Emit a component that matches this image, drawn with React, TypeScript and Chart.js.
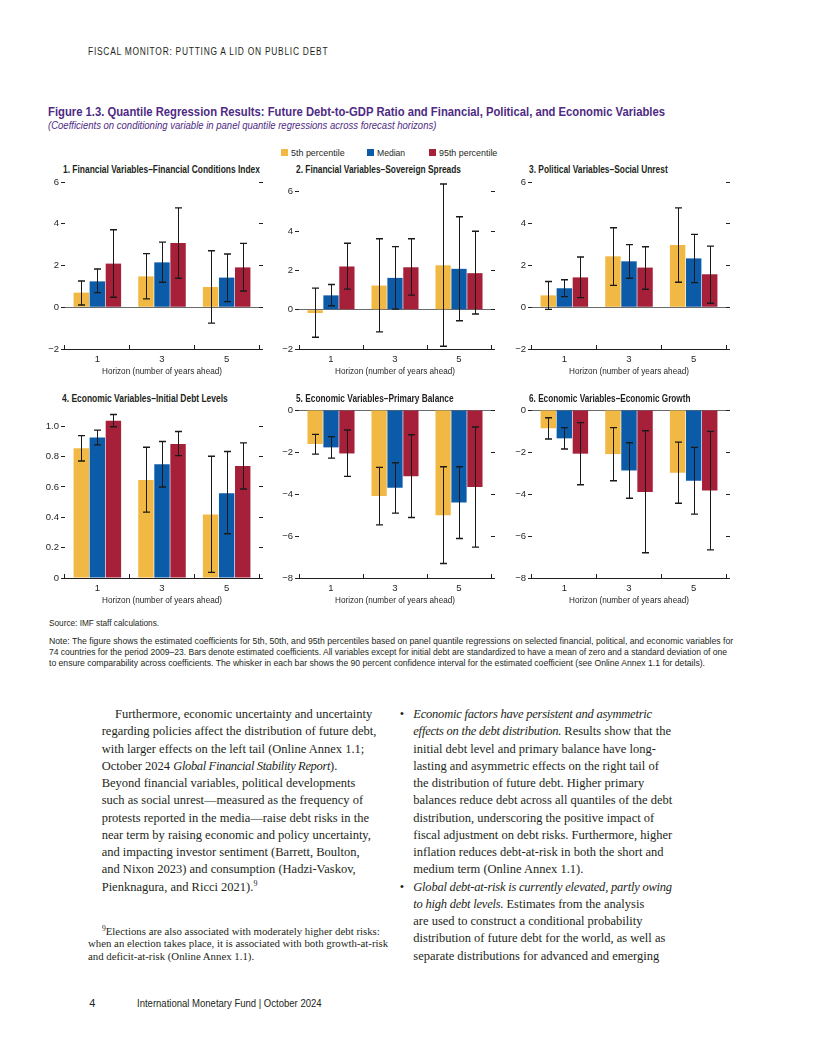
import React, { useEffect, useLayoutEffect, useRef } from 'react';
import { Chart, registerables } from 'chart.js';

Chart.register(...registerables);

const SANS = '"Liberation Sans", Arial, sans-serif';
const SERIF = '"Liberation Serif", "DejaVu Serif", serif';
const INK = '#231F20';
const PURPLE = '#4E2A84';

// ---------- data ----------
const HORIZONS = ['1', '3', '5'];
const SERIES = ['5th percentile', 'Median', '95th percentile'];
const COLORS = ['#F1B944', '#0C5BA8', '#A6203A'];

const TICKS_WIDE = [-2, 0, 2, 4, 6];
const TICKS_DEBT = [0, 0.2, 0.4, 0.6, 0.8, 1.0];
const TICKS_NEG = [-8, -6, -4, -2, 0];

// rows: 5th percentile, median, 95th percentile; columns: horizons 1, 3, 5
const FCI_COEF = [[0.70, 1.48, 0.97], [1.24, 2.15, 1.42], [2.09, 3.08, 1.91]];
const FCI_LOW = [[0.11, 0.40, -0.76], [0.70, 1.20, 0.27], [0.48, 1.39, 0.78]];
const FCI_HIGH = [[1.26, 2.57, 2.71], [1.83, 3.12, 2.55], [3.71, 4.76, 3.06]];

const SPREAD_COEF = [[-0.17, 1.23, 2.26], [0.73, 1.62, 2.08], [2.20, 2.16, 1.86]];
const SPREAD_LOW = [[-1.40, -1.13, -1.86], [0.20, 0.03, -0.56], [1.05, 0.74, -0.22]];
const SPREAD_HIGH = [[1.10, 3.61, 6.40], [1.28, 3.21, 4.73], [3.38, 3.61, 3.99]];

const UNREST_COEF = [[0.57, 2.44, 2.98], [0.91, 2.20, 2.34], [1.43, 1.90, 1.58]];
const UNREST_LOW = [[-0.10, 1.05, 1.20], [0.51, 1.39, 1.18], [0.46, 0.86, 0.19]];
const UNREST_HIGH = [[1.23, 3.81, 4.76], [1.32, 3.00, 3.49], [2.41, 2.90, 2.93]];

const DEBT_COEF = [[0.855, 0.645, 0.418], [0.925, 0.749, 0.559], [1.035, 0.883, 0.738]];
const DEBT_LOW = [[0.771, 0.434, 0.037], [0.877, 0.599, 0.291], [0.996, 0.806, 0.586]];
const DEBT_HIGH = [[0.938, 0.861, 0.802], [0.974, 0.899, 0.833], [1.077, 0.965, 0.890]];

const PB_COEF = [[-1.62, -4.09, -5.01], [-1.78, -3.70, -4.40], [-2.07, -3.15, -3.67]];
const PB_LOW = [[-2.10, -5.47, -7.31], [-2.29, -4.91, -6.12], [-3.16, -5.12, -6.53]];
const PB_HIGH = [[-1.16, -2.73, -2.70], [-1.27, -2.51, -2.70], [-0.95, -1.18, -0.81]];

const GROWTH_COEF = [[-0.87, -2.10, -2.99], [-1.35, -2.88, -3.37], [-2.08, -3.90, -3.83]];
const GROWTH_LOW = [[-1.38, -3.37, -4.44], [-1.86, -4.20, -4.96], [-3.56, -6.80, -6.66]];
const GROWTH_HIGH = [[-0.37, -0.84, -1.53], [-0.84, -1.56, -1.78], [-0.60, -0.99, -1.02]];

const X_TITLE = 'Horizon (number of years ahead)';

// ---------- layout ----------
type PanelCfg = {
  title: string; coef: number[][]; low: number[][]; high: number[][];
  ticks: number[]; min: number; max: number; decimals: boolean;
  l: number; r: number; t: number; b: number; tx: number; ty: number; tw: number;
};

const PANELS: PanelCfg[] = [
  { title: '1. Financial Variables–Financial Conditions Index', coef: FCI_COEF, low: FCI_LOW, high: FCI_HIGH, ticks: TICKS_WIDE, min: -2, max: 6, decimals: false, l: 65, r: 259, t: 182, b: 349, tx: 63.3, ty: 169.5, tw: 197 },
  { title: '2. Financial Variables–Sovereign Spreads', coef: SPREAD_COEF, low: SPREAD_LOW, high: SPREAD_HIGH, ticks: TICKS_WIDE, min: -2, max: 6.5, decimals: false, l: 299, r: 491, t: 182, b: 349, tx: 296, ty: 169.5, tw: 164.7 },
  { title: '3. Political Variables–Social Unrest', coef: UNREST_COEF, low: UNREST_LOW, high: UNREST_HIGH, ticks: TICKS_WIDE, min: -2, max: 6, decimals: false, l: 532, r: 726, t: 182, b: 349, tx: 529.3, ty: 169.5, tw: 139 },
  { title: '4. Economic Variables–Initial Debt Levels', coef: DEBT_COEF, low: DEBT_LOW, high: DEBT_HIGH, ticks: TICKS_DEBT, min: 0, max: 1.1, decimals: true, l: 65, r: 259, t: 411, b: 578, tx: 61.7, ty: 399, tw: 165.6 },
  { title: '5. Economic Variables–Primary Balance', coef: PB_COEF, low: PB_LOW, high: PB_HIGH, ticks: TICKS_NEG, min: -8, max: 0, decimals: false, l: 299, r: 491, t: 410, b: 578, tx: 296, ty: 399, tw: 158 },
  { title: '6. Economic Variables–Economic Growth', coef: GROWTH_COEF, low: GROWTH_LOW, high: GROWTH_HIGH, ticks: TICKS_NEG, min: -8, max: 0, decimals: false, l: 532, r: 726, t: 410, b: 578, tx: 529.3, ty: 399, tw: 161.7 },
];

const AXIS_L = 36;
const AXIS_R = 8;
const PAD_T = 8;
const AXIS_B = 30;
const AXIS_TITLE_W = 120;

const errorBars = {
  id: 'errorBars',
  afterDatasetsDraw(chart: any) {
    const { ctx } = chart;
    const ys = chart.scales.y;
    chart.data.datasets.forEach((ds: any, i: number) => {
      const meta = chart.getDatasetMeta(i);
      meta.data.forEach((el: any, j: number) => {
        const x = Math.round(el.x) + 0.5;
        const y1 = ys.getPixelForValue(ds.errLow[j]);
        const y2 = ys.getPixelForValue(ds.errHigh[j]);
        ctx.save();
        ctx.strokeStyle = '#1a1a1a';
        ctx.lineWidth = 1;
        ctx.beginPath();
        ctx.moveTo(x, y1);
        ctx.lineTo(x, y2);
        ctx.stroke();
        ctx.lineWidth = 1.4;
        ctx.beginPath();
        ctx.moveTo(x - 3.5, y1);
        ctx.lineTo(x + 3.5, y1);
        ctx.moveTo(x - 3.5, y2);
        ctx.lineTo(x + 3.5, y2);
        ctx.stroke();
        ctx.restore();
      });
    });
  },
};

// condensed x-axis title, drawn under the library's x scale
const narrowAxisTitle = {
  id: 'narrowAxisTitle',
  afterDraw(chart: any) {
    const xs = chart.scales.x;
    const { ctx } = chart;
    ctx.save();
    ctx.font = `9.5px ${SANS}`;
    ctx.fillStyle = INK;
    ctx.textAlign = 'center';
    ctx.textBaseline = 'middle';
    const w = ctx.measureText(X_TITLE).width;
    ctx.translate((xs.left + xs.right) / 2, xs.bottom - 7.3);
    ctx.scale(AXIS_TITLE_W / w, 1);
    ctx.fillText(X_TITLE, 0, 0);
    ctx.restore();
  },
};

function fmtTick(v: number, decimals: boolean): string {
  if (decimals) return v === 0 ? '0' : v.toFixed(1);
  if (v < 0) return '\u2212' + Math.abs(v);
  return String(v);
}

// text compressed horizontally to a target width (condensed face stand-in)
function Fit({ x, y, w, size, style, children }: any) {
  const ref = useRef<HTMLDivElement>(null);
  useLayoutEffect(() => {
    const el = ref.current;
    if (!el) return;
    const nat = el.offsetWidth;
    if (nat > 0) el.style.transform = `scaleX(${w / nat})`;
  }, []);
  return (
    <div style={{ position: 'absolute', left: x, top: y - size * 0.6, display: 'flex' }}>
      <div ref={ref} style={{ transformOrigin: 'left center', fontFamily: SANS, fontSize: size, lineHeight: `${size * 1.2}px`, height: size * 1.2, color: INK, whiteSpace: 'nowrap', ...style }}>{children}</div>
    </div>
  );
}

function Panel({ p }: { p: PanelCfg }) {
  const ref = useRef<HTMLCanvasElement>(null);
  const W = AXIS_L + (p.r - p.l) + AXIS_R;
  const H = PAD_T + (p.b - p.t) + AXIS_B;
  useEffect(() => {
    const setTicks = (s: any) => { s.ticks = p.ticks.map((v) => ({ value: v })); };
    const chart = new Chart(ref.current as HTMLCanvasElement, {
      type: 'bar',
      data: {
        labels: HORIZONS,
        datasets: SERIES.map((name, i) => ({
          label: name,
          data: p.coef[i],
          backgroundColor: COLORS[i],
          borderWidth: 0,
          categoryPercentage: 0.745,
          barPercentage: 0.96,
          errLow: p.low[i],
          errHigh: p.high[i],
        })) as any,
      },
      options: {
        responsive: false,
        animation: false,
        layout: { padding: { top: PAD_T, left: 0, right: 0, bottom: 0 } },
        plugins: { legend: { display: false }, tooltip: { enabled: false }, title: { display: false } },
        scales: {
          x: {
            type: 'category',
            offset: true,
            grid: { offset: true, drawOnChartArea: false, drawTicks: true, tickLength: -4, tickColor: INK, lineWidth: 1 },
            border: { display: true, color: INK, width: 1 },
            ticks: { color: INK, font: { size: 9.5, family: SANS }, padding: 9, maxRotation: 0 },
            title: { display: false },
            afterFit: (s: any) => { s.height = AXIS_B; },
          } as any,
          y: {
            position: 'left',
            min: p.min,
            max: p.max,
            afterBuildTicks: setTicks,
            grid: {
              drawOnChartArea: true,
              drawTicks: true,
              tickLength: 4,
              tickColor: INK,
              color: (c: any) => (c.tick && c.tick.value === 0 ? '#6b6b6b' : 'rgba(0,0,0,0)'),
            },
            border: { display: false },
            ticks: { color: INK, font: { size: 9.5, family: SANS }, padding: 2, callback: (v: any) => fmtTick(Number(v), p.decimals) },
            afterFit: (s: any) => { s.width = AXIS_L; },
          } as any,
          y2: {
            position: 'right',
            min: p.min,
            max: p.max,
            afterBuildTicks: setTicks,
            grid: { drawOnChartArea: false, drawTicks: true, tickLength: 4, tickColor: INK },
            border: { display: false },
            ticks: { display: false },
            afterFit: (s: any) => { s.width = AXIS_R; },
          } as any,
        },
      },
      plugins: [errorBars, narrowAxisTitle],
    });
    return () => chart.destroy();
  }, []);
  return (
    <>
      <Fit x={p.tx} y={p.ty} w={p.tw} size={10} style={{ fontWeight: 'bold' }}>{p.title}</Fit>
      <canvas ref={ref} width={W} height={H} style={{ position: 'absolute', left: p.l - AXIS_L, top: p.t - PAD_T, width: W, height: H }} />
    </>
  );
}

const LEFT_LINES: React.ReactNode[] = [
  'Furthermore, economic uncertainty and uncertainty',
  'regarding policies affect the distribution of future debt,',
  'with larger effects on the left tail (Online Annex 1.1;',
  <>October 2024 <i style={{ letterSpacing: '-0.35px' }}>Global Financial Stability Report</i>).</>,
  'Beyond financial variables, political developments',
  'such as social unrest—measured as the frequency of',
  'protests reported in the media—raise debt risks in the',
  'near term by raising economic and policy uncertainty,',
  'and impacting investor sentiment (Barrett, Boulton,',
  'and Nixon 2023) and consumption (Hadzi-Vaskov,',
  <>Pienknagura, and Ricci 2021).<sup style={{ fontSize: 8, verticalAlign: 'top', lineHeight: '10px' }}>9</sup></>,
];

const IT = { letterSpacing: '-0.22px' };
const RIGHT_LINES: React.ReactNode[] = [
  <i style={IT}>Economic factors have persistent and asymmetric</i>,
  <><i style={IT}>effects on the debt distribution.</i> Results show that the</>,
  'initial debt level and primary balance have long-',
  'lasting and asymmetric effects on the right tail of',
  'the distribution of future debt. Higher primary',
  'balances reduce debt across all quantiles of the debt',
  'distribution, underscoring the positive impact of',
  'fiscal adjustment on debt risks. Furthermore, higher',
  'inflation reduces debt-at-risk in both the short and',
  'medium term (Online Annex 1.1).',
  <i style={IT}>Global debt-at-risk is currently elevated, partly owing</i>,
  <><i style={IT}>to high debt levels.</i> Estimates from the analysis</>,
  'are used to construct a conditional probability',
  'distribution of future debt for the world, as well as',
  'separate distributions for advanced and emerging',
];

const FOOT_LINES: React.ReactNode[] = [
  <><sup style={{ fontSize: 7.5, verticalAlign: 'top', lineHeight: '8px' }}>9</sup>Elections are also associated with moderately higher debt risks:</>,
  'when an election takes place, it is associated with both growth-at-risk',
  'and deficit-at-risk (Online Annex 1.1).',
];

const NOTE_LINES = [
  'Note: The figure shows the estimated coefficients for 5th, 50th, and 95th percentiles based on panel quantile regressions on selected financial, political, and economic variables for',
  '74 countries for the period 2009–23. Bars denote estimated coefficients. All variables except for initial debt are standardized to have a mean of zero and a standard deviation of one',
  'to ensure comparability across coefficients. The whisker in each bar shows the 90 percent confidence interval for the estimated coefficient (see Online Annex 1.1 for details).',
];
const NOTE_W = [684, 678, 656];

const LEGEND_SQ = [281, 367, 429];
const LEGEND_TX = [290.5, 377, 438.7];
const LEGEND_W = [53.6, 28, 58];

export default function App() {
  const bodyLH = 17.25;
  return (
    <div style={{ position: 'absolute', left: 0, top: 0, width: 816, height: 1056, background: '#fff', overflow: 'hidden' }}>
      <Fit x={88.3} y={52} w={240} size={10} style={{ letterSpacing: '0.9px' }}>FISCAL MONITOR: PUTTING A LID ON PUBLIC DEBT</Fit>

      <Fit x={48} y={111.5} w={617} size={13} style={{ color: PURPLE, fontWeight: 'bold' }}>Figure 1.3. Quantile Regression Results: Future Debt-to-GDP Ratio and Financial, Political, and Economic Variables</Fit>
      <Fit x={48} y={125.5} w={388} size={10.5} style={{ color: PURPLE, fontStyle: 'italic' }}>(Coefficients on conditioning variable in panel quantile regressions across forecast horizons)</Fit>

      {SERIES.map((s, i) => (
        <React.Fragment key={s}>
          <div style={{ position: 'absolute', left: LEGEND_SQ[i], top: 149, width: 7, height: 7, background: COLORS[i] }} />
          <Fit x={LEGEND_TX[i]} y={152.5} w={LEGEND_W[i]} size={9.5}>{s}</Fit>
        </React.Fragment>
      ))}

      {PANELS.map((p, i) => <Panel key={i} p={p} />)}

      <Fit x={48.6} y={623} w={110} size={9.5}>Source: IMF staff calculations.</Fit>
      {NOTE_LINES.map((t, i) => (
        <Fit key={i} x={48.6} y={641 + i * 11} w={NOTE_W[i]} size={9.5}>{t}</Fit>
      ))}

      <div style={{ position: 'absolute', left: 101.7, top: 706, fontFamily: SERIF, fontSize: 12.5, lineHeight: `${bodyLH}px`, color: INK, whiteSpace: 'nowrap' }}>
        {LEFT_LINES.map((t, i) => (
          <div key={i} style={{ paddingLeft: i === 0 ? 13.3 : 0 }}>{t}</div>
        ))}
      </div>

      <div style={{ position: 'absolute', left: 88, top: 925, fontFamily: SERIF, fontSize: 10.8, lineHeight: '12.3px', color: INK, whiteSpace: 'nowrap' }}>
        {FOOT_LINES.map((t, i) => (
          <div key={i} style={{ paddingLeft: i === 0 ? 14 : 0 }}>{t}</div>
        ))}
      </div>

      <div style={{ position: 'absolute', left: 413.3, top: 706, fontFamily: SERIF, fontSize: 12.5, lineHeight: `${bodyLH}px`, color: INK, whiteSpace: 'nowrap' }}>
        {RIGHT_LINES.map((t, i) => (
          <div key={i} style={{ position: 'relative' }}>
            {(i === 0 || i === 10) && <span style={{ position: 'absolute', left: -13.5, top: 0 }}>•</span>}
            {t}
          </div>
        ))}
      </div>

      <Fit x={89.3} y={1004} w={6} size={11}>4</Fit>
      <Fit x={137.3} y={1004} w={184.4} size={11}>International Monetary Fund | October 2024</Fit>
    </div>
  );
}
